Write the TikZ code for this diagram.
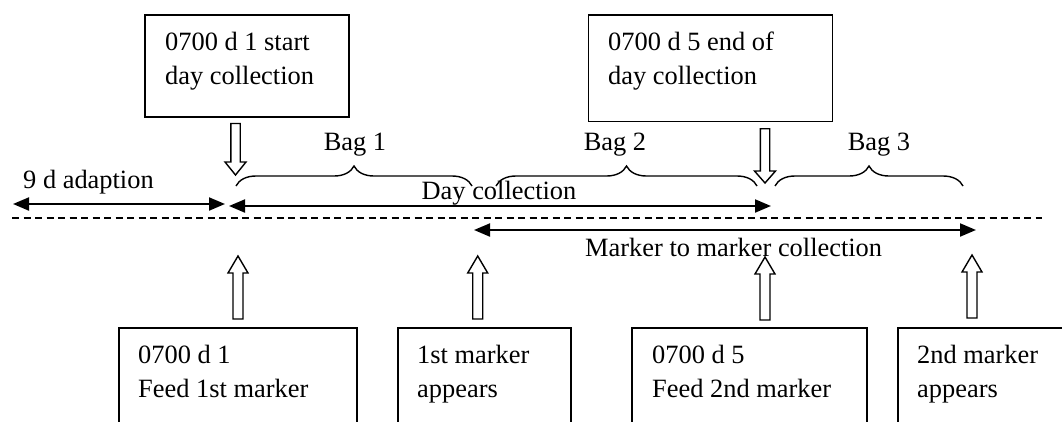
\documentclass[tikz,border=0pt]{standalone}
\usepackage{fontspec}
\setmainfont{Liberation Serif}
\usetikzlibrary{arrows.meta,decorations.pathreplacing}
\newcommand{\harrow}[6]{\draw[hollowarrow] ({#1-#6},#2) -- ({#1-#6},#3) -- ({#1-#5},#3) -- (#1,#4) -- ({#1+#5},#3) -- ({#1+#6},#3) -- ({#1+#6},#2) -- cycle;}
\begin{document}
\begin{tikzpicture}[x=1pt,y=-1pt,
  boxstyle/.style={draw, line width=1.6pt, inner sep=0pt, anchor=north west},
  lbl/.style={inner sep=0pt, font=\fontsize{26.4}{35}\selectfont},
  hollowarrow/.style={draw, line width=1.4pt, fill=white, line join=miter},
  timearrow/.style={line width=2pt, {Triangle[length=16pt,width=13pt]}-{Triangle[length=16pt,width=13pt]}},
  onearrow/.style={line width=2pt, -{Triangle[length=16pt,width=13pt]}},
  dashline/.style={line width=1.5pt, dash pattern=on 7pt off 4.5pt},
  bracestyle/.style={line width=1.4pt, decorate, decoration={brace, amplitude=20pt}}
]
\clip (0,0) rectangle (1062,421);
\fill[white] (0,0) rectangle (1062,421);

% top boxes
\node[boxstyle, minimum width=204pt, minimum height=102pt] (top1) at (144,14) {};
\node[lbl, anchor=base west] (top1a) at (165,50) {0700 d 1 start};
\node[lbl, anchor=base west] (top1b) at (165,84) {day collection};
\node[boxstyle, minimum width=244pt, minimum height=106.5pt] (top2) at (587.5,14) {};
\node[lbl, anchor=base west] (top2a) at (608,50) {0700 d 5 end of};
\node[lbl, anchor=base west] (top2b) at (608,84) {day collection};

% bottom boxes (cut by the lower edge)
\node[boxstyle, minimum width=238pt, minimum height=130pt] (bot1) at (118,327) {};
\node[lbl, anchor=base west] (bot1a) at (138,363) {0700 d 1};
\node[lbl, anchor=base west] (bot1b) at (138,397) {Feed 1st marker};
\node[boxstyle, minimum width=173pt, minimum height=130pt] (bot2) at (397,327) {};
\node[lbl, anchor=base west] (bot2a) at (417,363) {1st marker};
\node[lbl, anchor=base west] (bot2b) at (417,397) {appears};
\node[boxstyle, minimum width=235pt, minimum height=130pt] (bot3) at (631,327) {};
\node[lbl, anchor=base west] (bot3a) at (652,363) {0700 d 5};
\node[lbl, anchor=base west] (bot3b) at (652,397) {Feed 2nd marker};
\node[boxstyle, minimum width=200pt, minimum height=130pt] (bot4) at (897,327) {};
\node[lbl, anchor=base west] (bot4a) at (917,363) {2nd marker};
\node[lbl, anchor=base west] (bot4b) at (917,397) {appears};

% hollow block arrows
\harrow{235.5}{123.5}{162}{175}{10.5}{4.7}
\harrow{765}{128.7}{171}{183}{10.5}{4.7}
\harrow{238}{319}{273}{256}{10}{5}
\harrow{477.7}{319}{273}{256}{10}{5}
\harrow{765}{320}{274}{257}{10}{5}
\harrow{972}{318}{272}{255}{10}{5}

% dashed timeline
\coordinate (dl) at (12,218);
\coordinate (dr) at (1042,218);
\draw[dashline] (dl) -- (dr);

% period arrows
\coordinate (a1) at (13,204);
\coordinate (a2) at (225,204);
\draw[timearrow] (a1) -- (a2);
\node[lbl, anchor=base west] (adapt) at (23,188) {9 d adaption};

\coordinate (d1) at (229,206);
\coordinate (d2) at (771,206);
\draw[timearrow] (d1) -- (d2);
\node[lbl, anchor=base] (daycol) at (499,199) {Day collection};

\coordinate (m1) at (474,230);
\coordinate (m2) at (976,230);
\draw[timearrow] (m1) -- (m2);
\node[lbl, anchor=base west] (mkcol) at (585,256) {Marker to marker collection};

% braces
\coordinate (b1s) at (236,186);
\coordinate (b1e) at (472,186);
\coordinate (b2s) at (496,186);
\coordinate (b2e) at (757,186);
\coordinate (b3s) at (775,186);
\coordinate (b3e) at (963,186);
\draw[bracestyle] (b1s) -- (b1e);
\draw[bracestyle] (b2s) -- (b2e);
\draw[bracestyle] (b3s) -- (b3e);
\node[lbl, anchor=base] (bag1) at (355,150) {Bag 1};
\node[lbl, anchor=base] (bag2) at (615,150) {Bag 2};
\node[lbl, anchor=base] (bag3) at (879,150) {Bag 3};
\end{tikzpicture}
\end{document}
